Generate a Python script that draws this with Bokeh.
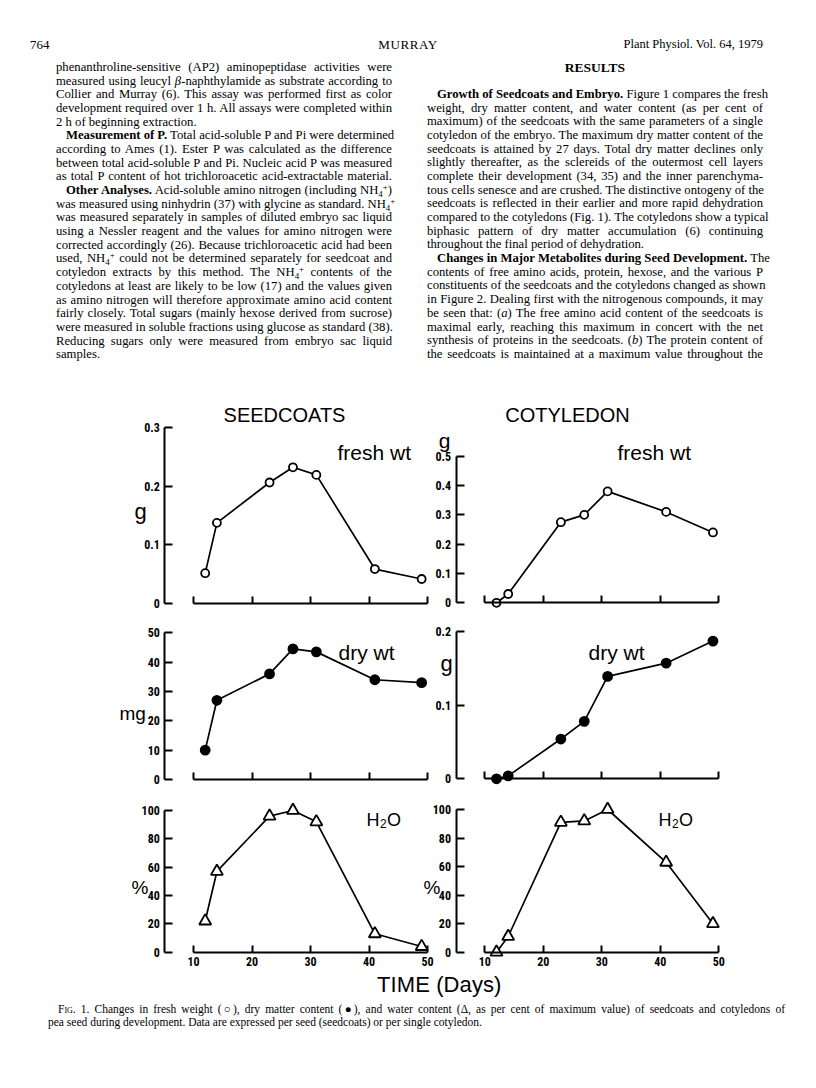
from bokeh.plotting import figure
from bokeh.models import Label, FixedTicker, Range1d, Div, LinearAxis
from bokeh.layouts import column
from bokeh.embed import file_html
from bokeh.resources import INLINE

# ---------------- data ----------------
days = [12, 14, 23, 27, 31, 41, 49]
seedcoat_fresh_g = [0.051, 0.137, 0.206, 0.232, 0.219, 0.058, 0.041]
cotyledon_fresh_g = [0.0, 0.03, 0.275, 0.30, 0.38, 0.31, 0.24]
seedcoat_dry_mg = [10, 27, 36, 44.5, 43.5, 34, 33]
cotyledon_dry_g = [0.0, 0.004, 0.054, 0.078, 0.139, 0.157, 0.187]
seedcoat_water_pct = [22, 57, 96, 100, 92, 13, 4]
cotyledon_water_pct = [0, 11, 91, 92, 100, 63, 20]

x_ticks = [10, 20, 30, 40, 50]
sc_fresh_ticks = [0, 0.1, 0.2, 0.3]
cot_fresh_ticks = [0, 0.1, 0.2, 0.3, 0.4, 0.5]
sc_dry_ticks = [0, 10, 20, 30, 40, 50]
cot_dry_ticks = [0, 0.1, 0.2]
pct_ticks = [0, 20, 40, 60, 80, 100]

# ---------------- styling ----------------
SANS = "'Liberation Sans', Arial, Helvetica, sans-serif"
NARROW = ("'Roboto Condensed', 'Liberation Sans Narrow', 'Arial Narrow', "
          "'DejaVu Sans Condensed', 'Liberation Sans', sans-serif")
SERIF = "'Liberation Serif', 'Times New Roman', serif"
FIG_W = 810

XL = ((10, 193.0), (50, 427.0))     # seedcoat panels: (value, page x)
XR = ((10, 484.3), (50, 718.3))     # cotyledon panels
AXIS_L, AXIS_R = 164.3, 455.5       # page x of the y-axis lines


def ranges(top, height, x_ref, y_ref):
    (xv0, xp0), (xv1, xp1) = x_ref
    kx = (xp1 - xp0) / (xv1 - xv0)
    x0 = xv0 - xp0 / kx
    x1 = x0 + FIG_W / kx
    (yv0, yp0), (yv1, yp1) = y_ref
    ky = (yp0 - yp1) / (yv1 - yv0)
    y1 = yv0 + (yp0 - top) / ky
    y0 = y1 - height / ky
    return dict(top=top, kx=kx, ky=ky, x0=x0, x1=x1, y0=y0, y1=y1)


def style_axes(ya, xa, y_ticks, show_x_labels):
    for ax in (ya, xa):
        ax.major_tick_in = 8
        ax.major_tick_out = 0
        ax.minor_tick_line_color = None
        ax.axis_line_width = 2
        ax.major_tick_line_width = 2
        ax.major_label_standoff = 5
        ax.major_label_text_font = NARROW
        ax.major_label_text_font_style = "bold"
        ax.major_label_text_font_size = "12px"
        ax.major_label_text_color = "black"
        ax.axis_line_color = "black"
        ax.major_tick_line_color = "black"
    ya.bounds = (y_ticks[0], y_ticks[-1])
    ya.ticker = FixedTicker(ticks=y_ticks)
    ya.major_label_overrides = {0: "0"}
    xa.major_tick_in = 7
    xa.bounds = (x_ticks[0], x_ticks[-1])
    xa.ticker = FixedTicker(ticks=x_ticks)
    xa.fixed_location = 0
    if not show_x_labels:
        xa.major_label_text_color = None


def row_figure(top, height, y_ref_left, y_ref_right, ticks_left, ticks_right,
               y_left, y_right, marker, size, fill, show_x_labels):
    gl = ranges(top, height, XL, y_ref_left)
    gr = ranges(top, height, XR, y_ref_right)
    p = figure(width=FIG_W, height=height,
               x_range=Range1d(gl["x0"], gl["x1"]), y_range=Range1d(gl["y0"], gl["y1"]),
               output_backend="svg", toolbar_location=None, min_border=0, margin=0)
    p.extra_x_ranges = {"r": Range1d(gr["x0"], gr["x1"])}
    p.extra_y_ranges = {"r": Range1d(gr["y0"], gr["y1"])}
    p.outline_line_color = None
    p.grid.visible = False
    p.background_fill_color = "white"
    p.border_fill_color = "white"

    # seedcoat panel axes (default axes)
    ya, xa = p.yaxis[0], p.xaxis[0]
    ya.fixed_location = gl["x0"] + AXIS_L / gl["kx"]
    style_axes(ya, xa, ticks_left, show_x_labels)
    # cotyledon panel axes
    ya2 = LinearAxis(x_range_name="r", y_range_name="r")
    xa2 = LinearAxis(x_range_name="r", y_range_name="r")
    ya2.fixed_location = gr["x0"] + AXIS_R / gr["kx"]
    style_axes(ya2, xa2, ticks_right, show_x_labels)
    p.add_layout(ya2, "left")
    p.add_layout(xa2, "below")

    for y, rn in ((y_left, "default"), (y_right, "r")):
        p.line(days, y, line_color="black", line_width=1.7, x_range_name=rn, y_range_name=rn)
        p.scatter(days, y, marker=marker, size=size, fill_color=fill, line_color="black",
                  line_width=1.8, x_range_name=rn, y_range_name=rn)
    return p, gl


def label(p, g, px, py, text, size, align="left", font=SANS):
    x = g["x0"] + px / g["kx"]
    y = g["y1"] - (py - g["top"]) / g["ky"]
    p.add_layout(Label(x=x, y=y, text=text, text_font=font, text_font_size=f"{size}px",
                       text_align=align, text_baseline="alphabetic", text_color="black"))


def h2o(p, g, px, py):
    label(p, g, px, py, "H", 18)
    label(p, g, px + 13.5, py + 4, "2", 12)
    label(p, g, px + 20.5, py, "O", 18)


# Row 1 : fresh weight
p1, g1 = row_figure(390, 225, ((0, 602.5), (0.3, 427.0)), ((0, 602.3), (0.5, 455.7)),
                    sc_fresh_ticks, cot_fresh_ticks, seedcoat_fresh_g, cotyledon_fresh_g,
                    "circle", 8, "white", False)
label(p1, g1, 284, 414, "SEEDCOATS", 20, "center")
label(p1, g1, 567, 414, "COTYLEDON", 20, "center")
label(p1, g1, 337, 452, "fresh wt", 21)
label(p1, g1, 617, 452, "fresh wt", 21)
label(p1, g1, 140, 511, "g", 22, "center")
label(p1, g1, 444, 440, "g", 21, "center")

# Row 2 : dry weight
p2, g2 = row_figure(615, 180, ((0, 779.0), (50, 632.3)), ((0, 778.3), (0.2, 631.0)),
                    sc_dry_ticks, cot_dry_ticks, seedcoat_dry_mg, cotyledon_dry_g,
                    "circle", 9, "black", False)
label(p2, g2, 338, 652, "dry wt", 21)
label(p2, g2, 588, 652, "dry wt", 21)
label(p2, g2, 119, 713, "mg", 19)
label(p2, g2, 446, 663, "g", 22, "center")

# Row 3 : water content
p3, g3 = row_figure(795, 180, ((0, 951.7), (100, 810.0)), ((0, 951.7), (100, 809.0)),
                    pct_ticks, pct_ticks, seedcoat_water_pct, cotyledon_water_pct,
                    "triangle", 12, "white", True)
h2o(p3, g3, 366, 819)
h2o(p3, g3, 658, 819)
label(p3, g3, 139.5, 887, "%", 19, "center")
label(p3, g3, 431.5, 887, "%", 19, "center")

# ---------------- page text ----------------
BODY_F, BODY_L = 12.7, 13.67


def sub(t):
    return f"<span style='font-size:0.7em;vertical-align:-0.3em;line-height:0'>{t}</span>"


def sup(t):
    return f"<span style='font-size:0.7em;vertical-align:0.45em;line-height:0'>{t}</span>"


NH4 = "NH" + sub("4") + sup("+")


def tline(oy, left, cy, width, html, F, L, justify=True, font=SERIF, extra=""):
    coff = (L - 1.107 * F) / 2 + 0.561 * F
    top = cy - coff - oy
    last = "justify" if justify else "left"
    return (f"<div style=\"position:absolute;left:{left:.1f}px;top:{top:.1f}px;width:{width}px;"
            f"font-family:{font};font-size:{F}px;line-height:{L}px;white-space:nowrap;color:black;"
            f"text-align:justify;text-align-last:{last};{extra}\">{html}</div>")


left_lines = [
    (0, "phenanthroline-sensitive (AP2) aminopeptidase activities were", True),
    (0, "measured using leucyl <i>&beta;</i>-naphthylamide as substrate according to", True),
    (0, "Collier and Murray (6). This assay was performed first as color", True),
    (0, "development required over 1 h. All assays were completed within", True),
    (0, "2 h of beginning extraction.", False),
    (10, "<b>Measurement of P.</b> Total acid-soluble P and Pi were determined", True),
    (0, "according to Ames (1). Ester P was calculated as the difference", True),
    (0, "between total acid-soluble P and Pi. Nucleic acid P was measured", True),
    (0, "as total P content of hot trichloroacetic acid-extractable material.", True),
    (10, f"<b>Other Analyses.</b> Acid-soluble amino nitrogen (including {NH4})", True),
    (0, f"was measured using ninhydrin (37) with glycine as standard. {NH4}", True),
    (0, "was measured separately in samples of diluted embryo sac liquid", True),
    (0, "using a Nessler reagent and the values for amino nitrogen were", True),
    (0, "corrected accordingly (26). Because trichloroacetic acid had been", True),
    (0, f"used, {NH4} could not be determined separately for seedcoat and", True),
    (0, f"cotyledon extracts by this method. The {NH4} contents of the", True),
    (0, "cotyledons at least are likely to be low (17) and the values given", True),
    (0, "as amino nitrogen will therefore approximate amino acid content", True),
    (0, "fairly closely. Total sugars (mainly hexose derived from sucrose)", True),
    (0, "were measured in soluble fractions using glucose as standard (38).", True),
    (0, "Reducing sugars only were measured from embryo sac liquid", True),
    (0, "samples.", False),
]

right_lines = [
    (10, "<b>Growth of Seedcoats and Embryo.</b> Figure 1 compares the fresh", True),
    (0, "weight, dry matter content, and water content (as per cent of", True),
    (0, "maximum) of the seedcoats with the same parameters of a single", True),
    (0, "cotyledon of the embryo. The maximum dry matter content of the", True),
    (0, "seedcoats is attained by 27 days. Total dry matter declines only", True),
    (0, "slightly thereafter, as the sclereids of the outermost cell layers", True),
    (0, "complete their development (34, 35) and the inner parenchyma-", True),
    (0, "tous cells senesce and are crushed. The distinctive ontogeny of the", True),
    (0, "seedcoats is reflected in their earlier and more rapid dehydration", True),
    (0, "compared to the cotyledons (Fig. 1). The cotyledons show a typical", True),
    (0, "biphasic pattern of dry matter accumulation (6) continuing", True),
    (0, "throughout the final period of dehydration.", False),
    (10, "<b>Changes in Major Metabolites during Seed Development.</b> The", True),
    (0, "contents of free amino acids, protein, hexose, and the various P", True),
    (0, "constituents of the seedcoats and the cotyledons changed as shown", True),
    (0, "in Figure 2. Dealing first with the nitrogenous compounds, it may", True),
    (0, "be seen that: (<i>a</i>) The free amino acid content of the seedcoats is", True),
    (0, "maximal early, reaching this maximum in concert with the net", True),
    (0, "synthesis of proteins in the seedcoats. (<i>b</i>) The protein content of", True),
    (0, "the seedcoats is maintained at a maximum value throughout the", True),
]

COL_W = 336
LCOL_X, RCOL_X = 56, 427
parts = []
parts.append(tline(0, 30, 45, 60, "764", 13, 15, False))
parts.append(tline(0, 308, 45, 200, "MURRAY", 13, 15, False,
                   extra="text-align:center;text-align-last:center;letter-spacing:0.6px;"))
parts.append(tline(0, 563, 45, 200, "Plant Physiol. Vol. 64, 1979", 12.5, 15, False,
                   extra="text-align:right;text-align-last:right;"))
for i, (ind, html, just) in enumerate(left_lines):
    parts.append(tline(0, LCOL_X + ind, 68 + i * BODY_L, COL_W - ind, html, BODY_F, BODY_L, just))
parts.append(tline(0, RCOL_X, 68, COL_W, "<b>RESULTS</b>", 13.5, 15, False,
                   extra="text-align:center;text-align-last:center;"))
for i, (ind, html, just) in enumerate(right_lines):
    parts.append(tline(0, RCOL_X + ind, 95 + i * BODY_L, COL_W - ind, html, BODY_F, BODY_L, just))

top_div = Div(text="<div style='position:relative;width:810px;height:390px;'>" + "".join(parts) + "</div>",
              width=FIG_W, height=390, margin=0)

cap1 = ("F<span style='font-variant:small-caps'>ig</span>. 1. Changes in fresh weight (&#9675;), dry matter content "
        "(&#9679;), and water content (&Delta;, as per cent of maximum value) of seedcoats and cotyledons of")
cap2 = "pea seed during development. Data are expressed per seed (seedcoats) or per single cotyledon."
bparts = [
    f"<div style=\"position:absolute;left:377px;top:-0.6px;font-family:{SANS};font-size:22px;"
    f"line-height:22px;white-space:nowrap;color:black;letter-spacing:0.1px;\">TIME (Days)</div>",
    tline(975, 58, 1010, 727, cap1, 11.5, 13, True),
    tline(975, 48, 1023, 738, cap2, 11.5, 13, False),
]
bottom_div = Div(text="<div style='position:relative;width:810px;height:70px;'>" + "".join(bparts) + "</div>",
                 width=FIG_W, height=70, margin=0)

layout = column(top_div, p1, p2, p3, bottom_div, spacing=0)

open("out.html", "w").write(file_html(layout, INLINE, title="Fig. 1"))
